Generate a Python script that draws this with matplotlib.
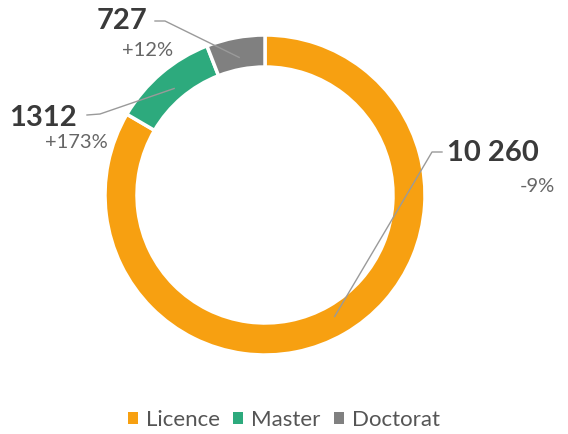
import numpy as np
import matplotlib
matplotlib.use("Agg")
import matplotlib.pyplot as plt
from matplotlib.patches import Patch

# -----------------------------
# data
# -----------------------------
categories = ["Licence", "Master", "Doctorat"]
values = [10260, 1312, 727]
value_labels = ["10 260", "1312", "727"]
change_labels = ["-9%", "+173%", "+12%"]
colors = ["#F7A011", "#2DAA7D", "#808080"]

plt.rcParams["font.family"] = ["Lato", "DejaVu Sans"]

fig = plt.figure(figsize=(5.68, 4.34), dpi=100)
ax = fig.add_axes([0, 0, 1, 1])
ax.axis("off")

cx, cy = 265, 434 - 195
radius = 160

wedges, _ = ax.pie(
    values,
    colors=colors,
    startangle=90,
    counterclock=False,
    center=(cx, cy),
    radius=radius,
    wedgeprops=dict(width=32, edgecolor="white", linewidth=2.5),
)
ax.set_xlim(0, 568)
ax.set_ylim(0, 434)
ax.set_aspect("equal")

# -----------------------------
# labels + leader lines
# -----------------------------
layout = {
    "Licence": dict(line=[(442, 152), (432, 152)], num=(447, 153), chg=(555, 187), ha="left"),
    "Master": dict(line=[(87, 115), (100, 114)], num=(77, 118), chg=(108, 143), ha="right"),
    "Doctorat": dict(line=[(155, 21), (165, 21)], num=(147, 21), chg=(173, 50), ha="right"),
}

for w, cat, vl, cl in zip(wedges, categories, value_labels, change_labels):
    mid = np.deg2rad((w.theta1 + w.theta2) / 2)
    r = radius - 20
    px, py = cx + r * np.cos(mid), cy + r * np.sin(mid)
    lay = layout[cat]
    pts = [(x, 434 - y) for x, y in lay["line"]] + [(px, py)]
    xs, ys = zip(*pts)
    ax.plot(xs, ys, color="#9a9a9a", linewidth=1.0)

    nx, ny = lay["num"]
    ax.text(nx, 434 - ny, vl, ha=lay["ha"], va="center",
            fontsize=21, fontweight="bold", color="#3a3a3a")
    chx, chy = lay["chg"]
    ax.text(chx, 434 - chy, cl, ha="right", va="center",
            fontsize=14.5, color="#666666")

# -----------------------------
# legend
# -----------------------------
handles = [Patch(facecolor=c, edgecolor="none") for c in colors]
leg = fig.legend(
    handles, categories,
    loc="center", bbox_to_anchor=(0.5, 1 - 420 / 434),
    ncol=3, frameon=False, fontsize=16,
    handlelength=0.45, handleheight=0.45, handletextpad=0.35,
    columnspacing=0.6,
)
for t in leg.get_texts():
    t.set_color("#555555")

fig.savefig("out.png", dpi=100)
